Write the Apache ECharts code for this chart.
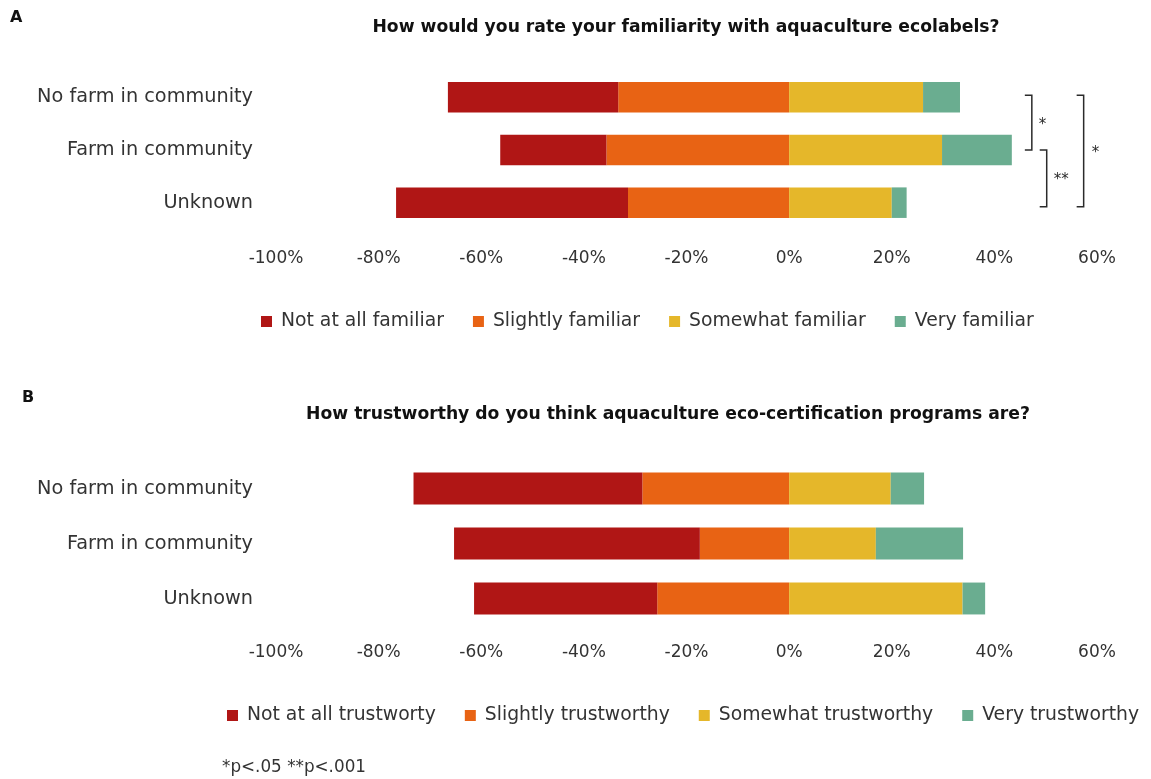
<!DOCTYPE html>
<html>
<head>
<meta charset="utf-8">
<script src="https://cdn.jsdelivr.net/npm/echarts@6/dist/echarts.min.js"></script>
<style>
  html, body { margin: 0; padding: 0; background: #fff; }
  #chart { width: 1151px; height: 779px; }
</style>
</head>
<body>
<div id="chart"></div>
<script>
// Groups shown on both panels
const categories = ['No farm in community', 'Farm in community', 'Unknown'];

// Panel A: familiarity with aquaculture ecolabels (% of respondents)
const notAtAllFamiliar = [33.2, 20.7, 45.2];
const slightlyFamiliar = [33.3, 35.6, 31.4];
const somewhatFamiliar = [26.1, 29.8, 20.0];
const veryFamiliar = [7.2, 13.6, 2.9];

// Panel B: trust in aquaculture eco-certification programs (% of respondents)
const notAtAllTrust = [44.6, 47.9, 35.7];
const slightlyTrust = [28.6, 17.4, 25.7];
const somewhatTrust = [19.8, 16.9, 33.8];
const veryTrust = [6.5, 17.0, 4.4];

const familiarityNames = ['Not at all familiar', 'Slightly familiar', 'Somewhat familiar', 'Very familiar'];
const trustNames = ['Not at all trustworty', 'Slightly trustworthy', 'Somewhat trustworthy', 'Very trustworthy'];

const COLORS = ['#B01615', '#E86314', '#E5B72A', '#6AAD90'];
const FONT = 'DejaVu Sans';
const TEXT = '#333333';

const neg = arr => arr.map(v => -v);

function barSeries(name, data, colorIdx, axisIdx, stackName) {
  return {
    name: name,
    type: 'bar',
    stack: stackName,
    xAxisIndex: axisIdx,
    yAxisIndex: axisIdx,
    data: data,
    barWidth: '58%',
    itemStyle: { color: COLORS[colorIdx] },
    emphasis: { disabled: true }
  };
}

function valueAxis(gridIndex, margin) {
  return {
    type: 'value',
    gridIndex: gridIndex,
    min: -100,
    max: 60,
    interval: 20,
    axisLine: { show: false },
    axisTick: { show: false },
    splitLine: { show: false },
    axisLabel: {
      formatter: '{value}%',
      fontFamily: FONT,
      fontSize: 17,
      color: TEXT,
      margin: margin
    }
  };
}

function categoryAxis(gridIndex) {
  return {
    type: 'category',
    gridIndex: gridIndex,
    inverse: true,
    data: categories,
    axisLine: { show: false },
    axisTick: { show: false },
    axisLabel: {
      fontFamily: FONT,
      fontSize: 19.3,
      color: TEXT,
      margin: 23
    }
  };
}

function legendBlock(names, left, top) {
  return {
    data: names,
    left: left,
    top: top,
    icon: 'rect',
    itemWidth: 11,
    itemHeight: 11,
    itemGap: 29,
    selectedMode: false,
    textStyle: { fontFamily: FONT, fontSize: 18.8, color: TEXT, padding: [0, 0, 0, 4] }
  };
}

const chart = echarts.init(document.getElementById('chart'), null, { renderer: 'canvas' });

chart.setOption({
  animation: false,
  backgroundColor: '#ffffff',
  grid: [
    { left: 276, right: 54, top: 71, height: 158 },
    { left: 276, right: 54, top: 461, height: 165 }
  ],
  xAxis: [valueAxis(0, 21), valueAxis(1, 18)],
  yAxis: [categoryAxis(0), categoryAxis(1)],
  legend: [
    legendBlock(familiarityNames, 256, 307),
    legendBlock(trustNames, 222, 701)
  ],
  series: [
    barSeries(familiarityNames[1], neg(slightlyFamiliar), 1, 0, 'fam'),
    barSeries(familiarityNames[0], neg(notAtAllFamiliar), 0, 0, 'fam'),
    barSeries(familiarityNames[2], somewhatFamiliar, 2, 0, 'fam'),
    barSeries(familiarityNames[3], veryFamiliar, 3, 0, 'fam'),
    barSeries(trustNames[1], neg(slightlyTrust), 1, 1, 'trust'),
    barSeries(trustNames[0], neg(notAtAllTrust), 0, 1, 'trust'),
    barSeries(trustNames[2], somewhatTrust, 2, 1, 'trust'),
    barSeries(trustNames[3], veryTrust, 3, 1, 'trust')
  ]
});

// Significance brackets beside panel A, anchored to the group rows
const rowY = i => chart.convertToPixel({ yAxisIndex: 0 }, categories[i]);
const colX = v => chart.convertToPixel({ xAxisIndex: 0 }, v);

const yTop = rowY(0) - 2;
const yMid = rowY(1);
const yBot = rowY(2) + 4;

function bracket(xLine, yA, yB) {
  const hook = 7;
  return {
    type: 'polyline',
    shape: { points: [[xLine - hook, yA], [xLine, yA], [xLine, yB], [xLine - hook, yB]] },
    style: { stroke: '#2b2b2b', lineWidth: 1.5, fill: null }
  };
}

function star(text, x, y) {
  return {
    type: 'text',
    x: x,
    y: y,
    style: {
      text: text,
      fontFamily: FONT,
      fontSize: 15,
      fill: '#2b2b2b',
      align: 'left',
      verticalAlign: 'middle'
    }
  };
}

function label(text, x, y, opts) {
  return {
    type: 'text',
    x: x,
    y: y,
    style: Object.assign({
      text: text,
      fontFamily: FONT,
      fontSize: 16,
      fill: '#111111',
      align: 'left',
      verticalAlign: 'middle'
    }, opts || {})
  };
}

const b1 = colX(47.3);
const b2 = colX(50.2);
const b3 = colX(57.4);

chart.setOption({
  graphic: [
    label('A', 10, 18, { fontWeight: 'bold', fontSize: 16 }),
    label('How would you rate your familiarity with aquaculture ecolabels?', 686, 28,
      { fontWeight: 'bold', fontSize: 17.2, align: 'center' }),
    label('B', 22, 398, { fontWeight: 'bold', fontSize: 16 }),
    label('How trustworthy do you think aquaculture eco-certification programs are?', 668, 415,
      { fontWeight: 'bold', fontSize: 17.2, align: 'center' }),
    label('*p<.05 **p<.001', 222, 768, { fontSize: 16.8, fill: TEXT }),
    bracket(b1, yTop, yMid),
    bracket(b2, yMid, yBot),
    bracket(b3, yTop, yBot),
    star('*', b1 + 7, (yTop + yMid) / 2 + 2),
    star('**', b2 + 7, (yMid + yBot) / 2 + 2),
    star('*', b3 + 8, (yTop + yBot) / 2 + 2)
  ]
});
</script>
</body>
</html>
